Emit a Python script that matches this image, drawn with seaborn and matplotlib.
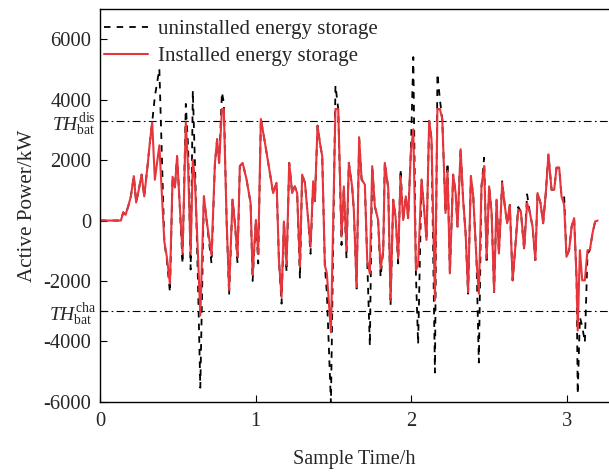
import numpy as np
import pandas as pd
import matplotlib
matplotlib.use("Agg")
import matplotlib.pyplot as plt
import seaborn as sns

# ---- data ----
time_h = [0.000, 0.135, 0.150, 0.165, 0.182, 0.199, 0.218, 0.233, 0.250, 0.268,
          0.285, 0.306, 0.321, 0.336, 0.353, 0.382, 0.414, 0.430, 0.450, 0.467,
          0.482, 0.496, 0.511, 0.531, 0.552, 0.567, 0.583, 0.597, 0.610, 0.629,
          0.645, 0.668, 0.685, 0.717, 0.739, 0.753, 0.766, 0.784, 0.796, 0.814,
          0.830, 0.852, 0.869, 0.884, 0.899, 0.917, 0.942, 0.968, 0.981, 1.002,
          1.017, 1.034, 1.060, 1.085, 1.113, 1.135, 1.150, 1.167, 1.182, 1.199,
          1.216, 1.235, 1.252, 1.267, 1.285, 1.299, 1.317, 1.338, 1.353, 1.370,
          1.381, 1.398, 1.413, 1.428, 1.445, 1.458, 1.484, 1.513, 1.531, 1.552,
          1.567, 1.584, 1.599, 1.620, 1.631, 1.649, 1.665, 1.681, 1.702, 1.717,
          1.734, 1.749, 1.766, 1.787, 1.803, 1.820, 1.830, 1.852, 1.867, 1.884,
          1.899, 1.916, 1.931, 1.948, 1.965, 1.980, 1.997, 2.013, 2.030, 2.044,
          2.066, 2.081, 2.098, 2.115, 2.130, 2.152, 2.168, 2.184, 2.199, 2.220,
          2.233, 2.248, 2.269, 2.285, 2.297, 2.317, 2.333, 2.349, 2.365, 2.383,
          2.398, 2.419, 2.434, 2.451, 2.468, 2.484, 2.500, 2.516, 2.532, 2.548,
          2.563, 2.584, 2.601, 2.616, 2.633, 2.651, 2.665, 2.687, 2.704, 2.725,
          2.744, 2.762, 2.779, 2.797, 2.811, 2.830, 2.847, 2.864, 2.881, 2.901,
          2.918, 2.933, 2.950, 2.965, 2.982, 2.997, 3.014, 3.030, 3.046, 3.062,
          3.069, 3.083, 3.098, 3.115, 3.132, 3.147, 3.164, 3.181, 3.197]

installed = [0, 0, 270, 190, 470, 800, 1470, 600, 1020, 1520,
             800, 1800, 2580, 3250, 1350, 2490, -700, -1200, -2090, 1450,
             1090, 2130, 700, -1090, 3250, 1700, -1090, 2020, 1360, -1000,
             -3140, 800, 20, -1140, 1910, 2690, 1910, 3690, 3690, 0,
             -2300, 690, -200, -1200, 1800, 1910, 1360, 580, -1800, 20,
             -1100, 3360, 2580, 1800, 910, 1250, -1310, -2530, -30, -1480,
             1910, 910, 1130, 910, -1530, 1520, 1250, 20, -870, 1300,
             640, 3140, 2580, 2130, -1480, -1750, -3700, 3690, 3690, -530,
             1130, -1000, 1910, 1130, 360, -2200, 2750, 1360, 1190, -1310,
             -1750, 1800, 470, 20, -1590, -980, 1910, 1080, -2640, 690,
             130, -1250, 1470, 20, 800, 80, 2240, 3020, -1640, -1480,
             1360, 470, -640, 3300, 2690, -2640, 3690, 3690, 3360, 250,
             1640, -1750, 1520, 910, -200, 2360, 690, -420, -2370, 1470,
             800, -1310, -2420, 1130, 1800, -1250, 1130, 250, -2360, 690,
             -1090, 1250, 470, -90, 520, -1980, -1090, 360, 300, -920,
             580, 250, -200, -1310, 910, 580, -90, 910, 2190, 1020,
             1020, 1750, 1750, 800, 520, -1200, -980, -200, 80, -1980,
             -3640, -980, -1980, -1980, -980, -980, -420, -30, 0]

uninstalled = [0, 0, 270, 190, 470, 800, 1470, 600, 1020, 1520,
               800, 1800, 2580, 3250, 4100, 5020, -700, -1300, -2370, 1450,
               1090, 2130, 700, -1420, 3860, 2400, -1620, 4300, 2000, -1800,
               -5530, 800, 20, -1420, 1910, 2690, 1910, 4240, 3900, 0,
               -2480, 690, -200, -1420, 1800, 1910, 1360, 580, -2000, 20,
               -1420, 3360, 2580, 1800, 910, 1250, -1310, -2750, -30, -1700,
               1910, 910, 1130, 910, -1920, 1520, 1250, 20, -1100, 1300,
               640, 3140, 2580, 2130, -1480, -2420, -6050, 4470, 3690, -810,
               1130, -1250, 1910, 1130, 360, -2250, 2750, 1360, 1190, -1310,
               -4140, 1800, 470, 20, -1870, -980, 1910, 1080, -2810, 690,
               130, -1420, 1700, 20, 800, 80, 2240, 5410, -1800, -4090,
               1360, 470, -640, 3300, 2690, -5030, 4860, 4000, 3360, 250,
               1910, -1750, 1520, 910, -200, 2360, 690, -420, -2420, 1470,
               800, -1310, -4700, 1130, 2080, -1420, 1130, 250, -2370, 690,
               -1090, 1300, 470, -90, 520, -1980, -1090, 450, 300, -980,
               870, 250, -200, -1310, 910, 580, -90, 910, 2190, 1020,
               1020, 1750, 1750, 800, 800, -1200, -980, -200, 80, -1980,
               -5740, -3200, -3500, -4030, -1100, -980, -420, -30, 0]

th_dis = 3300
th_cha = -3000
x_ticks = [0, 1, 2, 3]
y_ticks = [-6000, -4000, -2000, 0, 2000, 4000, 6000]

# ---- style ----
sns.set_style("ticks")
plt.rcParams['font.family'] = ['Liberation Serif', 'DejaVu Serif']
plt.rcParams['mathtext.fontset'] = 'custom'
plt.rcParams['mathtext.rm'] = 'Liberation Serif'
plt.rcParams['mathtext.it'] = 'Liberation Serif:italic'
plt.rcParams['axes.unicode_minus'] = False

fig = plt.figure(figsize=(6.09, 4.75), dpi=100)
ax = fig.add_axes([0.164, 0.154, 0.836, 0.827])

df_u = pd.DataFrame({"t": time_h, "p": uninstalled})
df_i = pd.DataFrame({"t": time_h, "p": installed})

sns.lineplot(data=df_u, x="t", y="p", ax=ax, color="black", lw=1.3,
             sort=False, estimator=None, label="uninstalled energy storage")
ax.lines[-1].set_dashes([3.6, 3.4])
sns.lineplot(data=df_i, x="t", y="p", ax=ax, color="#e8353b", lw=1.5,
             sort=False, estimator=None, label="Installed energy storage")

for th in (th_dis, th_cha):
    ax.axhline(th, color="black", lw=0.8, ls=(0, (7, 3, 1.5, 3)), zorder=1)

ax.set_xlim(0, 3.27)
ax.set_ylim(-6000, 7000)
ax.set_xticks(x_ticks)
ax.set_yticks(y_ticks)
ax.set_yticks([th_cha, th_dis], minor=True)
ax.tick_params(which="both", direction="in", length=5, width=0.8,
               labelsize=14.8, color="black")
ax.tick_params(axis="y", pad=6)
ax.tick_params(axis="x", pad=7)
for s in ("left", "bottom", "top"):
    ax.spines[s].set_linewidth(1.0)
    ax.spines[s].set_color("black")
ax.spines["right"].set_visible(False)

ax.set_xlabel("Sample Time/h", fontsize=14.5, labelpad=14)
ax.set_ylabel("Active Power/kW", fontsize=15.2, labelpad=5)

ax.text(-0.008, th_dis - 120, r"$TH_{\rm bat}^{\rm dis}$", transform=ax.get_yaxis_transform(),
        ha="right", va="center", fontsize=14)
ax.text(-0.008, th_cha - 120, r"$TH_{\rm bat}^{\rm cha}$", transform=ax.get_yaxis_transform(),
        ha="right", va="center", fontsize=14)

leg = ax.legend(loc="upper left", bbox_to_anchor=(0.0, 0.984), frameon=False,
                fontsize=15, handlelength=2.1, borderpad=0.1,
                borderaxespad=0.1, labelspacing=0.35, handletextpad=0.5)

fig.savefig("out.png", dpi=100)
